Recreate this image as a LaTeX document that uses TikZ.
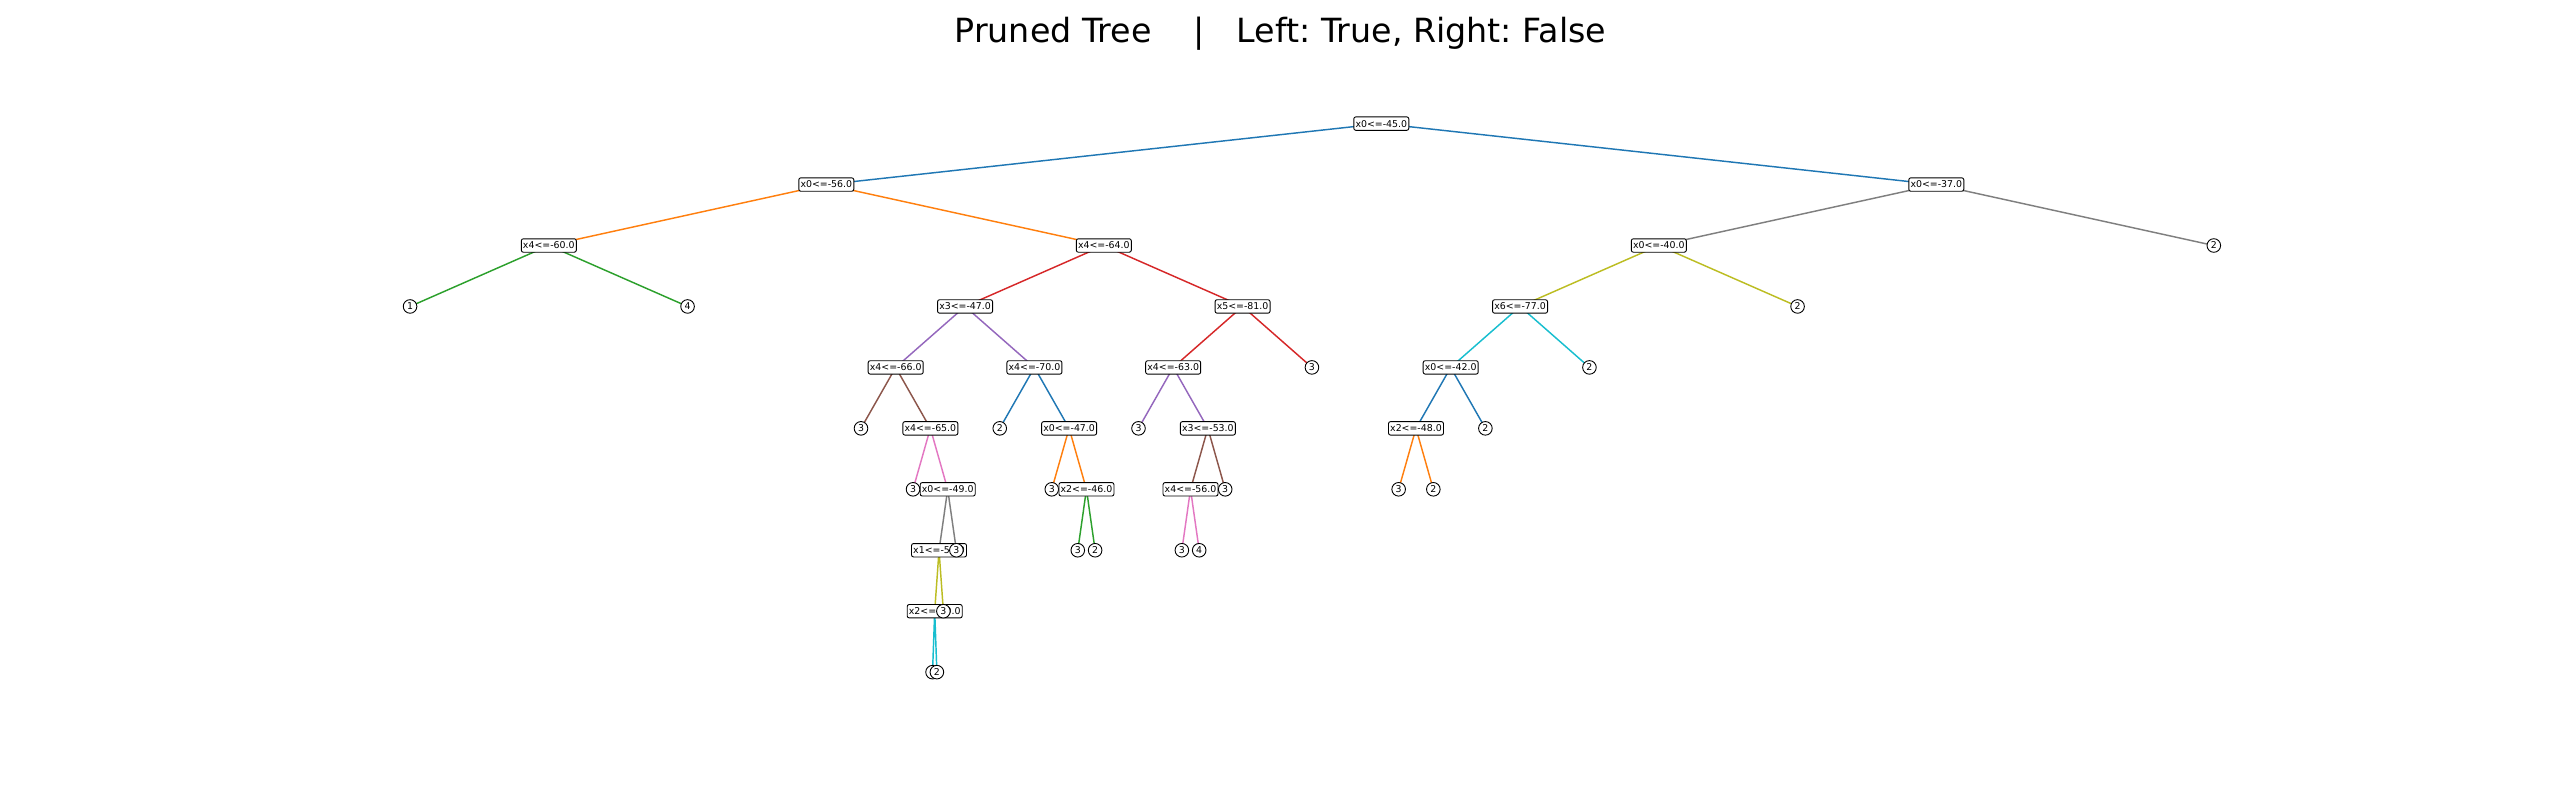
\documentclass[tikz,border=0pt]{standalone}
\usepackage{fontspec}
\setmainfont{DejaVu Sans}
\usetikzlibrary{backgrounds}
\frenchspacing
\definecolor{tbblue}{HTML}{1F77B4}
\definecolor{tborange}{HTML}{FF7F0E}
\definecolor{tbgreen}{HTML}{2CA02C}
\definecolor{tbred}{HTML}{D62728}
\definecolor{tbpurple}{HTML}{9467BD}
\definecolor{tbbrown}{HTML}{8C564B}
\definecolor{tbpink}{HTML}{E377C2}
\definecolor{tbgray}{HTML}{7F7F7F}
\definecolor{tbolive}{HTML}{BCBD22}
\definecolor{tbcyan}{HTML}{17BECF}
\tikzset{
  splitbox/.style={draw=black, line width=0.9pt, fill=white, rounded corners=2pt,
    minimum width=55pt, minimum height=13.4pt, inner sep=0pt,
    font=\fontsize{9.4}{10}\selectfont},
  leafbox/.style={circle, draw=black, line width=0.9pt, fill=white,
    minimum size=13.6pt, inner sep=0pt, font=\fontsize{9.4}{10}\selectfont},
  edgeline/.style={line width=1.45pt},
  titletext/.style={font=\fontsize{33.3}{40}\selectfont, anchor=base, inner sep=0pt}
}
\begin{document}
\begin{tikzpicture}[x=1pt,y=-1pt]
\useasboundingbox (0,0) rectangle (2560,800);
\node[titletext] (title) at (1280.5,42.7) {Pruned Tree~~~~|~~~Left: True, Right: False};
% nodes in preorder
\node[splitbox] (n0) at (1381.3,123.6) {x0<=-45.0};
\node[splitbox] (n1) at (826.3,184.55) {x0<=-56.0};
\node[splitbox] (n2) at (548.8,245.5) {x4<=-60.0};
\node[leafbox] (a1) at (410.05,306.45) {1};
\node[leafbox] (a2) at (687.55,306.45) {4};
\node[splitbox] (n3) at (1103.8,245.5) {x4<=-64.0};
\node[splitbox] (n4) at (965.05,306.45) {x3<=-47.0};
\node[splitbox] (n5) at (895.68,367.4) {x4<=-66.0};
\node[leafbox] (a3) at (860.99,428.35) {3};
\node[splitbox] (n6) at (930.36,428.35) {x4<=-65.0};
\node[leafbox] (a4) at (913.02,489.3) {3};
\node[splitbox] (n7) at (947.70,489.3) {x0<=-49.0};
\node[splitbox] (n8) at (939.03,550.25) {x1<=-51.0};
\node[splitbox] (n9) at (934.70,611.2) {x2<=-50.0};
\node[leafbox] (a7) at (932.53,672.15) {};
\node[leafbox] (a8) at (936.87,672.15) {2};
\node[leafbox] (a6) at (943.37,611.2) {3};
\node[leafbox] (a5) at (956.37,550.25) {3};
\node[splitbox] (n10) at (1034.43,367.4) {x4<=-70.0};
\node[leafbox] (a9) at (999.74,428.35) {2};
\node[splitbox] (n11) at (1069.11,428.35) {x0<=-47.0};
\node[leafbox] (a10) at (1051.77,489.3) {3};
\node[splitbox] (n12) at (1086.45,489.3) {x2<=-46.0};
\node[leafbox] (a11) at (1077.78,550.25) {3};
\node[leafbox] (a12) at (1095.12,550.25) {2};
\node[splitbox] (n13) at (1242.55,306.45) {x5<=-81.0};
\node[splitbox] (n14) at (1173.18,367.4) {x4<=-63.0};
\node[leafbox] (a14) at (1138.49,428.35) {3};
\node[splitbox] (n15) at (1207.86,428.35) {x3<=-53.0};
\node[splitbox] (n16) at (1190.52,489.3) {x4<=-56.0};
\node[leafbox] (a16) at (1181.85,550.25) {3};
\node[leafbox] (a17) at (1199.19,550.25) {4};
\node[leafbox] (a15) at (1225.20,489.3) {3};
\node[leafbox] (a13) at (1311.93,367.4) {3};
\node[splitbox] (n17) at (1936.3,184.55) {x0<=-37.0};
\node[splitbox] (n18) at (1658.8,245.5) {x0<=-40.0};
\node[splitbox] (n19) at (1520.05,306.45) {x6<=-77.0};
\node[splitbox] (n20) at (1450.68,367.4) {x0<=-42.0};
\node[splitbox] (n21) at (1415.99,428.35) {x2<=-48.0};
\node[leafbox] (a22) at (1398.65,489.3) {3};
\node[leafbox] (a23) at (1433.33,489.3) {2};
\node[leafbox] (a21) at (1485.37,428.35) {2};
\node[leafbox] (a20) at (1589.43,367.4) {2};
\node[leafbox] (a19) at (1797.55,306.45) {2};
\node[leafbox] (a18) at (2213.8,245.5) {2};
% white page and edges beneath the nodes
\begin{scope}[on background layer]
\fill[white] (0,0) rectangle (2560,800);
\draw[edgeline,tbblue] (n1.center) -- (n0.center) -- (n17.center);
\draw[edgeline,tborange] (n2.center) -- (n1.center) -- (n3.center);
\draw[edgeline,tbgreen] (a1.center) -- (n2.center) -- (a2.center);
\draw[edgeline,tbred] (n4.center) -- (n3.center) -- (n13.center);
\draw[edgeline,tbpurple] (n5.center) -- (n4.center) -- (n10.center);
\draw[edgeline,tbbrown] (a3.center) -- (n5.center) -- (n6.center);
\draw[edgeline,tbpink] (a4.center) -- (n6.center) -- (n7.center);
\draw[edgeline,tbgray] (n8.center) -- (n7.center) -- (a5.center);
\draw[edgeline,tbolive] (n9.center) -- (n8.center) -- (a6.center);
\draw[edgeline,tbcyan] (a7.center) -- (n9.center) -- (a8.center);
\draw[edgeline,tbblue] (a9.center) -- (n10.center) -- (n11.center);
\draw[edgeline,tborange] (a10.center) -- (n11.center) -- (n12.center);
\draw[edgeline,tbgreen] (a11.center) -- (n12.center) -- (a12.center);
\draw[edgeline,tbred] (n14.center) -- (n13.center) -- (a13.center);
\draw[edgeline,tbpurple] (a14.center) -- (n14.center) -- (n15.center);
\draw[edgeline,tbbrown] (n16.center) -- (n15.center) -- (a15.center);
\draw[edgeline,tbpink] (a16.center) -- (n16.center) -- (a17.center);
\draw[edgeline,tbgray] (n18.center) -- (n17.center) -- (a18.center);
\draw[edgeline,tbolive] (n19.center) -- (n18.center) -- (a19.center);
\draw[edgeline,tbcyan] (n20.center) -- (n19.center) -- (a20.center);
\draw[edgeline,tbblue] (n21.center) -- (n20.center) -- (a21.center);
\draw[edgeline,tborange] (a22.center) -- (n21.center) -- (a23.center);
\end{scope}
\end{tikzpicture}
\end{document}
